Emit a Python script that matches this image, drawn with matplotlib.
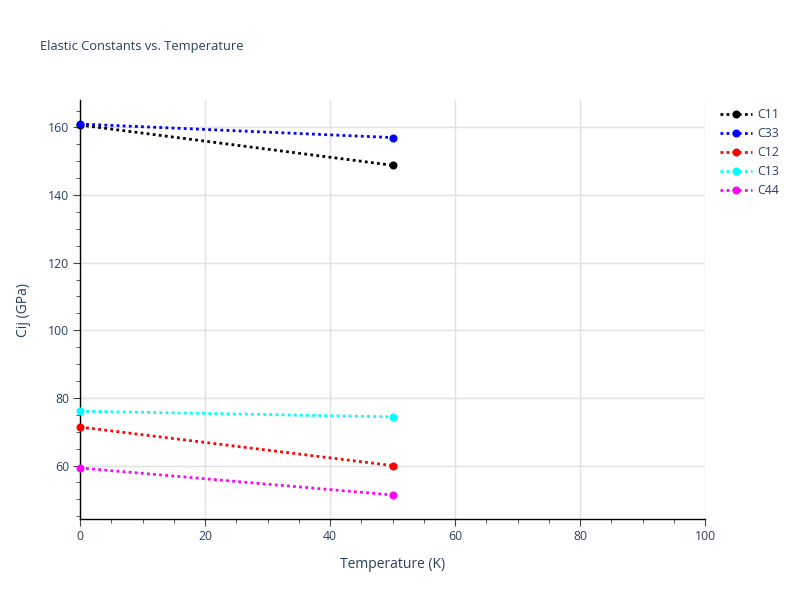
import matplotlib
matplotlib.use("Agg")
import matplotlib.pyplot as plt
from matplotlib.ticker import MultipleLocator

plt.rcParams['font.family'] = ['Open Sans', 'DejaVu Sans']

temperature = [0, 50]
series_names = ["C11", "C33", "C12", "C13", "C44"]
c11 = [160.7, 148.8]
c33 = [161.0, 157.0]
c12 = [71.4, 60.0]
c13 = [76.1, 74.4]
c44 = [59.3, 51.3]
values = [c11, c33, c12, c13, c44]
colors = ["black", "blue", "red", "cyan", "magenta"]

text_color = "#2a3f5f"
fig = plt.figure(figsize=(8, 6), dpi=100)
ax = fig.add_axes([0.1, 0.135, 0.78125, 0.6983])

for name, v, c in zip(series_names, values, colors):
    ax.plot(temperature, v, linestyle=(0, (1, 1.2)), linewidth=2, color=c,
            marker='o', markersize=4.8, label=name, clip_on=False, zorder=3)

ax.set_xlim(0, 100)
ax.set_ylim(44.2, 168.1)
ax.xaxis.set_major_locator(MultipleLocator(20))
ax.xaxis.set_minor_locator(MultipleLocator(5))
ax.yaxis.set_major_locator(MultipleLocator(20))
ax.yaxis.set_minor_locator(MultipleLocator(5))
ax.grid(True, which='major', color='#e0e0e0', linewidth=1, zorder=0)
ax.set_axisbelow(True)
for s in ['top', 'right']:
    ax.spines[s].set_visible(False)
for s in ['left', 'bottom']:
    ax.spines[s].set_color('black')
    ax.spines[s].set_linewidth(1)
ax.tick_params(which='major', direction='out', length=5, color='#444444', labelsize=8.8,
               labelcolor=text_color, pad=3)
ax.tick_params(which='minor', direction='out', length=3, color='#444444')
ax.set_xlabel("Temperature (K)", fontsize=10, color=text_color, labelpad=10)
ax.set_ylabel("Cij (GPa)", fontsize=10, color=text_color, labelpad=12)

fig.text(0.05, 0.923, "Elastic Constants vs. Temperature", fontsize=9.3,
         color=text_color, va='center', ha='left')

leg = ax.legend(loc='upper left', bbox_to_anchor=(1.012, 1.0), frameon=False,
                fontsize=8.8, labelcolor=text_color, handlelength=2.6,
                labelspacing=0.5, borderaxespad=0.25, handletextpad=0.45)

fig.savefig("out.png", dpi=100, facecolor='white')
